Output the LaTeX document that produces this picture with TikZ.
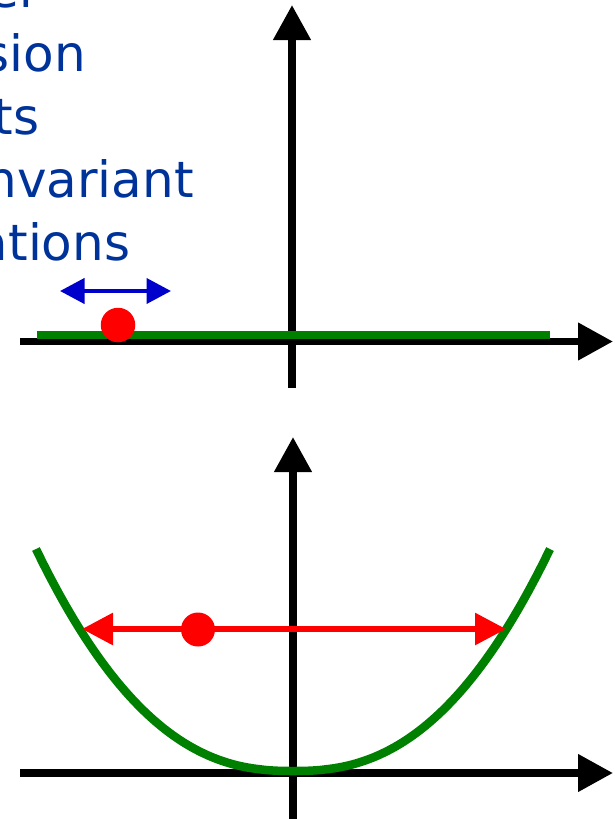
\documentclass[tikz,border=0pt]{standalone}
\usepackage{fontspec}
\newfontfamily\labelfont{DejaVu Sans}
\usetikzlibrary{arrows.meta}
\definecolor{textblue}{RGB}{0,51,153}
\definecolor{arrowblue}{RGB}{0,0,204}
\definecolor{curvegreen}{RGB}{0,128,0}
\definecolor{dotred}{RGB}{255,0,0}
\tikzset{
  axisline/.style={line width=7.5pt, black, -{Triangle[length=35pt,width=36pt]}},
  greenline/.style={line width=8.5pt, curvegreen},
  reddot/.style={circle, fill=dotred, inner sep=0pt, minimum size=34.5pt},
  lbl/.style={anchor=base east, inner sep=0pt, text=textblue, font=\labelfont\fontsize{50}{63}\selectfont},
}
\begin{document}
\begin{tikzpicture}[x=1pt,y=-1pt]
\useasboundingbox (0,0) rectangle (614,819);
% text (cut at left edge)
\node[lbl] (t1) at (40.5,8) {er};
\node[lbl] (t2) at (86,71) {sion};
\node[lbl] (t3) at (39.5,134) {ts};
\node[lbl] (t4) at (194,197) {nvariant};
\node[lbl] (t5) at (130.5,260) {ations};
% top axes
\coordinate (ta0) at (292,388);
\coordinate (ta1) at (292,5);
\coordinate (th0) at (20,341.5);
\coordinate (th1) at (613,341.5);
\draw[axisline] (ta0) -- (ta1);
\draw[axisline] (th0) -- (th1);
\coordinate (g0) at (36.5,335);
\coordinate (g1) at (550,335);
\draw[greenline, line width=8pt] (g0) -- (g1);
\node[reddot] (d1) at (118,325) {};
\coordinate (b0) at (60,291);
\coordinate (b1) at (171,291);
\draw[line width=4pt, arrowblue, {Triangle[length=24.5pt,width=25pt]}-{Triangle[length=24.5pt,width=25pt]}] (b0) -- (b1);
% bottom axes
\coordinate (ba0) at (293,819);
\coordinate (ba1) at (293,437);
\coordinate (bh0) at (20,773);
\coordinate (bh1) at (613,773);
\draw[axisline] (ba0) -- (ba1);
\draw[axisline] (bh0) -- (bh1);
\draw[greenline] plot[domain=-257:257, samples=120, smooth] ({293+\x},{771-222*pow(abs(\x)/257,2.4)});
\coordinate (r0) at (82,629);
\coordinate (r1) at (506,629);
\draw[line width=6pt, dotred, {Triangle[length=31pt,width=31pt]}-{Triangle[length=31pt,width=31pt]}] (r0) -- (r1);
\node[reddot, minimum size=34pt] (d2) at (198,629.5) {};
\end{tikzpicture}
\end{document}
